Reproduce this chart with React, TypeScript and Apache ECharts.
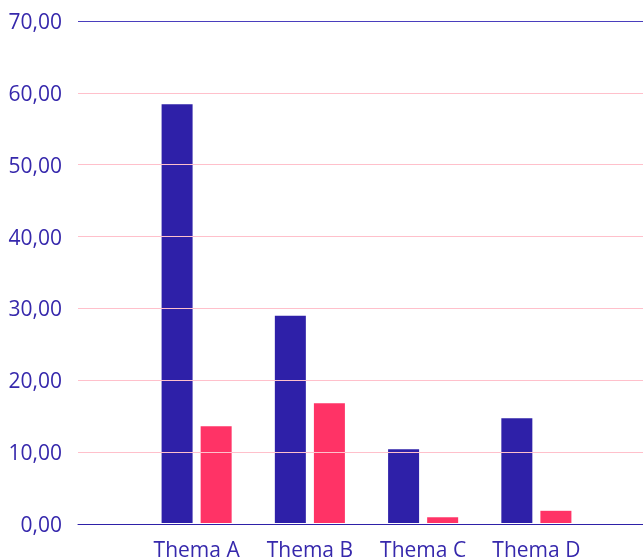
import React, { useEffect, useRef } from "react";
import * as echarts from "echarts";

const categories = ["Thema A", "Thema B", "Thema C", "Thema D"];
const seriesBlue = [58.4, 28.9, 10.3, 14.6];
const seriesPink = [13.5, 16.7, 0.8, 1.7];
const yMin = 0;
const yMax = 70;
const yInterval = 10;

const PURPLE = "#2e20a8";
const TOPLINE = "#4a3ebd";
const PINK = "#ff3366";
const TEXT = "#3628ac";
const GRIDPINK = "#ffc0cb";
const FONT = "'Open Sans', 'Noto Sans', sans-serif";

export default function App() {
  const ref = useRef<HTMLDivElement>(null);
  useEffect(() => {
    if (!ref.current) return;
    const chart = echarts.init(ref.current, undefined, { renderer: "svg" });
    const lineCount = (yMax - yMin) / yInterval + 1;
    const splitColors: string[] = [];
    for (let i = 0; i < lineCount; i++) splitColors.push(i === lineCount - 1 ? TOPLINE : GRIDPINK);
    chart.setOption({
      animation: false,
      textStyle: { fontFamily: FONT },
      grid: [
        { left: 78, right: 0, top: 21, bottom: 35 },
        { left: 140, right: 50, top: 21, bottom: 35 },
      ],
      xAxis: [
        {
          gridIndex: 0,
          type: "category",
          data: [""],
          axisLine: { show: true, lineStyle: { color: PURPLE, width: 1 } },
          axisTick: { show: false },
          axisLabel: { show: false },
          splitLine: { show: false },
          z: 11,
        },
        {
          gridIndex: 1,
          type: "category",
          data: categories,
          axisLine: { show: false },
          axisTick: { show: false },
          axisLabel: { color: TEXT, fontSize: 21, fontFamily: FONT, margin: 15, interval: 0 },
        },
      ],
      yAxis: [
        {
          gridIndex: 0,
          type: "value",
          min: yMin,
          max: yMax,
          interval: yInterval,
          axisLine: { show: false },
          axisTick: { show: false },
          axisLabel: {
            color: TEXT,
            fontSize: 21,
            fontFamily: FONT,
            margin: 16,
            formatter: (v: number) => v.toFixed(2).replace(".", ","),
          },
          splitLine: { show: true, lineStyle: { color: splitColors, width: 1 } },
          z: 10,
        },
        {
          gridIndex: 1,
          type: "value",
          min: yMin,
          max: yMax,
          interval: yInterval,
          show: false,
          splitLine: { show: false },
        },
      ],
      series: [
        {
          type: "bar",
          xAxisIndex: 1,
          yAxisIndex: 1,
          data: seriesBlue,
          barWidth: 31,
          barGap: "26%",
          itemStyle: { color: PURPLE },
        },
        {
          type: "bar",
          xAxisIndex: 1,
          yAxisIndex: 1,
          data: seriesPink,
          barWidth: 31,
          barGap: "26%",
          itemStyle: { color: PINK },
        },
      ],
    });
    return () => chart.dispose();
  }, []);
  return (
    <div
      ref={ref}
      style={{ position: "fixed", left: 0, top: 0, width: 643, height: 559 }}
    />
  );
}
